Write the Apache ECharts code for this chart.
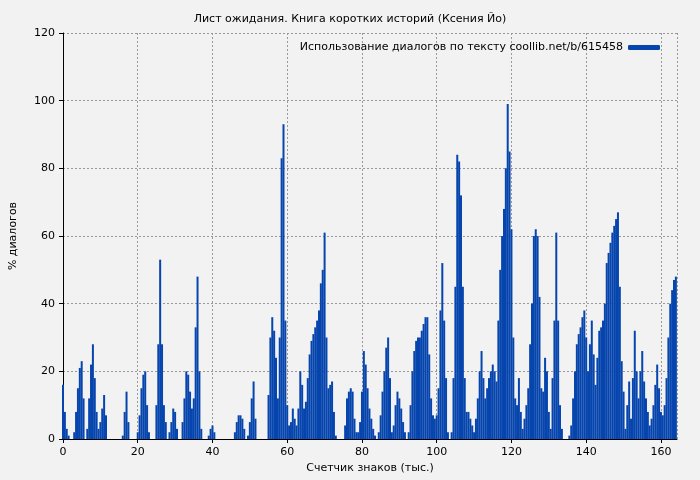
<!DOCTYPE html>
<html><head><meta charset="utf-8">
<script src="https://cdn.jsdelivr.net/npm/echarts@6/dist/echarts.min.js"></script>
<style>html,body{margin:0;padding:0;background:#f2f2f2}#c{width:700px;height:480px}</style>
</head><body><div id="c"></div>
<script>
const title = 'Лист ожидания. Книга коротких историй (Ксения Йо)';
const seriesName = 'Использование диалогов по тексту coollib.net/b/615458';
const xStep = 0.5;
const xTicks = [0, 20, 40, 60, 80, 100, 120, 140, 160];
const yTicks = [0, 20, 40, 60, 80, 100, 120];
const values = [
16,8,3,1,0,0,2,8,15,21,
23,12,0,3,12,22,28,18,8,3,
5,9,13,7,0,0,0,0,0,0,
0,0,1,8,14,5,0,0,0,0,
2,7,15,19,20,10,2,0,0,0,
10,28,53,28,10,5,0,2,5,9,
8,3,0,0,5,12,20,19,14,9,
12,33,48,20,3,0,0,0,1,3,
4,2,0,0,0,0,0,0,0,0,
0,0,2,5,7,7,6,3,0,1,
5,12,17,6,0,0,0,0,0,0,
13,30,36,32,24,12,30,83,93,35,
10,4,5,9,6,4,9,20,16,9,
11,18,25,29,31,33,35,38,46,50,
61,30,15,16,17,8,1,0,0,0,
0,4,12,14,15,14,6,2,2,5,
14,26,22,15,9,6,3,1,0,2,
7,14,20,27,30,18,2,4,10,14,
12,9,5,2,0,2,10,20,26,29,
30,30,32,34,36,36,25,12,7,6,
7,15,38,52,35,18,2,0,2,18,
45,84,82,72,45,18,8,8,6,4,
2,6,12,20,26,18,12,15,18,20,
22,20,17,35,50,60,68,80,99,85,
62,30,12,10,18,8,3,6,10,15,
28,40,60,62,60,42,15,14,24,20,
8,3,18,35,61,35,10,3,0,0,
0,1,4,12,20,28,31,33,36,38,
30,20,28,35,25,16,24,32,33,35,
40,52,55,58,61,63,65,67,45,23,
14,3,10,17,6,18,32,20,12,20,
26,17,12,8,4,6,10,16,22,15,
8,7,10,18,30,40,44,47,48
];
const data = values.map((v, i) => [i * xStep, v]);
const font = 'DejaVu Sans';
const chart = echarts.init(document.getElementById('c'));
chart.setOption({
  backgroundColor: '#f2f2f2',
  animation: false,
  textStyle: { fontFamily: font },
  title: { text: title, left: 'center', top: 9, textStyle: { fontSize: 11, fontWeight: 'normal', color: '#000', fontFamily: font } },
  legend: { right: 35, top: 37, align: 'right', itemWidth: 32, itemHeight: 5, itemGap: 6,
    textStyle: { fontSize: 11, color: '#000', fontFamily: font }, data: [seriesName] },
  grid: { left: 61, right: 23, top: 33, bottom: 41 },
  xAxis: { type: 'value', min: 0, max: 164.3, interval: 20,
    name: 'Счетчик знаков (тыс.)', nameLocation: 'middle', nameGap: 24,
    nameTextStyle: { fontSize: 11, color: '#000' },
    axisLine: { lineStyle: { color: '#000' } }, axisTick: { length: 4, lineStyle: { color: '#000' } },
    axisLabel: { fontSize: 11, color: '#000', showMaxLabel: false, formatter: v => xTicks.includes(v) ? v : '' },
    splitLine: { show: true, lineStyle: { color: '#999', type: [2, 2] } } },
  yAxis: { type: 'value', min: 0, max: 120, interval: 20,
    name: '% диалогов', nameLocation: 'middle', nameGap: 44,
    nameTextStyle: { fontSize: 11, color: '#000' },
    axisLine: { show: true, lineStyle: { color: '#000' } }, axisTick: { show: true, length: 4, lineStyle: { color: '#000' } },
    axisLabel: { fontSize: 11, color: '#000', formatter: v => yTicks.includes(v) ? v : '' },
    splitLine: { show: true, lineStyle: { color: '#999', type: [2, 2] } } },
  series: [{ name: seriesName, type: 'bar', data: data, barWidth: 2, barGap: '0%',
    itemStyle: { color: '#0645ad' } }]
});
</script></body></html>
